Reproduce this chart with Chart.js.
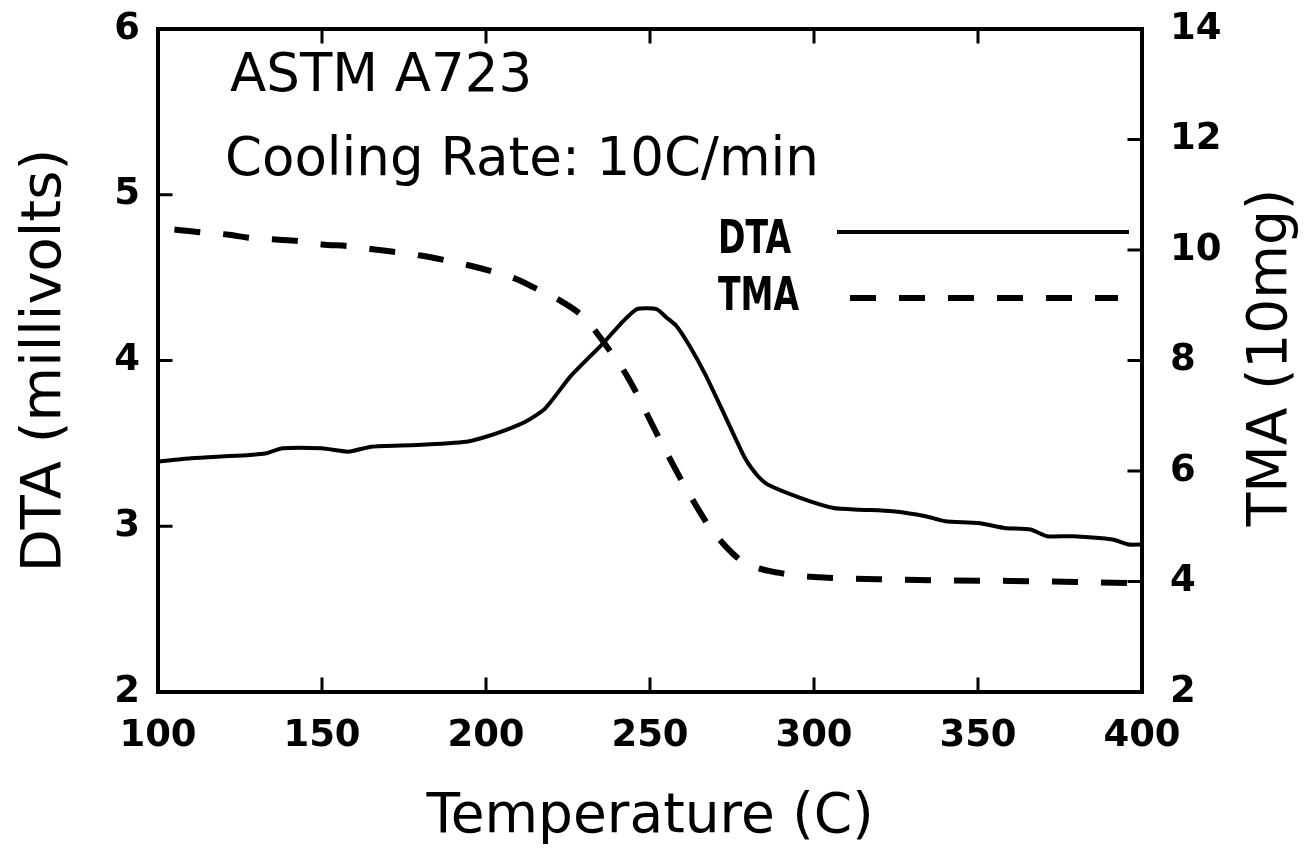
<!DOCTYPE html>
<html>
<head>
<meta charset="utf-8">
<title>ASTM A723 DTA / TMA</title>
<script src="https://cdn.jsdelivr.net/npm/chart.js@4.4.1/dist/chart.umd.min.js"></script>
<style>
  html, body { margin: 0; padding: 0; background: #fff; }
  #wrap { width: 1312px; height: 860px; }
</style>
</head>
<body>
<div id="wrap"><canvas id="dtaChart" width="1312" height="860"></canvas></div>
<script>
// DTA curve (millivolts), vs temperature (C)
const dtaTemps = [100, 110, 118, 128, 133, 138, 150, 158, 165, 179, 194, 200, 206, 212, 218, 226, 236, 241, 246, 252,
                  255, 258, 262, 267, 273, 279, 283, 286, 296, 306, 314, 324, 334, 340, 350, 358, 366, 371, 379, 391, 396, 400];
const dtaValues = [3.39, 3.41, 3.42, 3.43, 3.44, 3.47, 3.47, 3.45, 3.48, 3.49, 3.51, 3.54, 3.58, 3.63, 3.71, 3.91, 4.11, 4.22, 4.31, 4.31,
                   4.26, 4.21, 4.09, 3.91, 3.66, 3.41, 3.30, 3.25, 3.17, 3.11, 3.10, 3.09, 3.06, 3.03, 3.02, 2.99, 2.98, 2.94, 2.94, 2.92, 2.89, 2.89];

// TMA curve (10mg) on the right axis
const tmaTemps = [105, 113, 121, 128, 136, 143, 150, 158, 166, 173, 180, 188, 195, 202, 209, 216, 223, 230, 236, 243,
                  253, 260, 268, 273, 278, 283, 289, 296, 304, 320, 340, 360, 380, 400];
const tmaValues = [10.37, 10.32, 10.28, 10.22, 10.19, 10.16, 10.10, 10.07, 10.01, 9.96, 9.90, 9.81, 9.72, 9.61, 9.48, 9.28, 9.07, 8.77, 8.32, 7.72,
                   6.57, 5.79, 5.00, 4.64, 4.37, 4.24, 4.16, 4.10, 4.07, 4.04, 4.02, 4.01, 3.99, 3.97];

// axis ranges / ticks
const xTicks = [100, 150, 200, 250, 300, 350, 400];
const dtaTicks = [2, 3, 4, 5, 6];
const tmaTicks = [2, 4, 6, 8, 10, 12, 14];

const noteLines = ['ASTM A723', 'Cooling Rate: 10C/min'];
const legendNames = ['DTA', 'TMA'];

const FONT = 'DejaVu Sans';
const dashPattern = [26, 23];

// frame box + inward tick marks, like the old plotter output
const framePlugin = {
    id: 'frame',
    afterDraw(chart) {
        const { ctx, chartArea: a, scales } = chart;
        const len = 13;
        ctx.save();
        ctx.strokeStyle = '#000';
        ctx.lineWidth = 4;
        ctx.lineCap = 'square';
        ctx.strokeRect(a.left, a.top, a.right - a.left, a.bottom - a.top);

        ctx.lineWidth = 3;
        ctx.beginPath();
        xTicks.slice(1, -1).forEach(t => {
            const px = scales.x.getPixelForValue(t);
            ctx.moveTo(px, a.bottom); ctx.lineTo(px, a.bottom - len);
            ctx.moveTo(px, a.top); ctx.lineTo(px, a.top + len);
        });
        dtaTicks.slice(1, -1).forEach(t => {
            const py = scales.y.getPixelForValue(t);
            ctx.moveTo(a.left, py); ctx.lineTo(a.left + len, py);
        });
        tmaTicks.slice(1, -1).forEach(t => {
            const py = scales.y2.getPixelForValue(t);
            ctx.moveTo(a.right, py); ctx.lineTo(a.right - len, py);
        });
        ctx.stroke();

        // right axis title reads bottom-to-top, so draw it by hand
        const y2 = scales.y2;
        ctx.fillStyle = '#000';
        ctx.font = '55px "' + FONT + '"';
        ctx.textAlign = 'center';
        ctx.textBaseline = 'middle';
        ctx.translate(y2.right - 40, (a.top + a.bottom) / 2 - 3);
        ctx.rotate(-Math.PI / 2);
        ctx.fillText('TMA (10mg)', 0, 0);
        ctx.restore();
    }
};

// narrow, tall legend lettering
function narrowText(ctx, text, x, y) {
    ctx.save();
    ctx.translate(x, y);
    ctx.scale(0.72, 1);
    ctx.fillText(text, 0, 0);
    ctx.restore();
}

// annotation text and the hand-made legend inside the plot
const notesPlugin = {
    id: 'notes',
    afterDatasetsDraw(chart) {
        const { ctx, chartArea: a } = chart;
        ctx.save();
        ctx.fillStyle = '#000';
        ctx.textBaseline = 'alphabetic';
        ctx.textAlign = 'left';
        ctx.font = '53px "' + FONT + '"';
        ctx.fillText(noteLines[0], a.left + 72, a.top + 62);
        ctx.fillText(noteLines[1], a.left + 67, a.top + 146);

        ctx.font = 'bold 46px "' + FONT + '"';
        narrowText(ctx, legendNames[0], a.left + 560, a.top + 224);
        narrowText(ctx, legendNames[1], a.left + 560, a.top + 281);

        ctx.strokeStyle = '#000';
        ctx.lineWidth = 4;
        ctx.beginPath();
        ctx.moveTo(a.left + 679, a.top + 203);
        ctx.lineTo(a.left + 971, a.top + 203);
        ctx.stroke();

        ctx.lineWidth = 6;
        ctx.setLineDash(dashPattern);
        ctx.beginPath();
        ctx.moveTo(a.left + 692, a.top + 269);
        ctx.lineTo(a.left + 960, a.top + 269);
        ctx.stroke();
        ctx.restore();
    }
};

const tickFont = { family: FONT, size: 37, weight: 'bold' };

// pin the plot box: fixed axis sizes, no extra label padding
function fitY(width) {
    return s => { s.width = width; s.paddingTop = 0; s.paddingBottom = 0; };
}

const ctx = document.getElementById('dtaChart').getContext('2d');
const chart = new Chart(ctx, {
    type: 'line',
    data: {
        datasets: [
            {
                label: legendNames[0],
                data: dtaTemps.map((t, i) => ({ x: t, y: dtaValues[i] })),
                yAxisID: 'y',
                borderColor: '#000',
                borderWidth: 4,
                pointRadius: 0,
                tension: 0.2,
                fill: false
            },
            {
                label: legendNames[1],
                data: tmaTemps.map((t, i) => ({ x: t, y: tmaValues[i] })),
                yAxisID: 'y2',
                borderColor: '#000',
                borderWidth: 6,
                borderDash: dashPattern,
                pointRadius: 0,
                cubicInterpolationMode: 'monotone',
                fill: false
            }
        ]
    },
    options: {
        responsive: false,
        animation: false,
        devicePixelRatio: 1,
        layout: { padding: { top: 29, left: 0, right: 0, bottom: 0 } },
        plugins: {
            legend: { display: false },
            tooltip: { enabled: false }
        },
        scales: {
            x: {
                type: 'linear',
                min: 100, max: 400,
                afterBuildTicks: s => { s.ticks = xTicks.map(v => ({ value: v })); },
                afterFit: s => { s.height = 168; s.paddingLeft = 0; s.paddingRight = 0; },
                grid: { display: false, drawTicks: false },
                border: { display: false },
                ticks: { color: '#000', padding: 22, maxRotation: 0, font: tickFont },
                title: {
                    display: true, text: 'Temperature (C)', color: '#000',
                    font: { family: FONT, size: 55 }, padding: { top: 0, bottom: 9 }
                }
            },
            y: {
                position: 'left',
                min: 2, max: 6,
                afterBuildTicks: s => { s.ticks = dtaTicks.map(v => ({ value: v })); },
                afterFit: fitY(158),
                grid: { display: false, drawTicks: false },
                border: { display: false },
                ticks: { color: '#000', padding: 18, font: tickFont },
                title: {
                    display: true, text: 'DTA (millivolts)', color: '#000',
                    font: { family: FONT, size: 56 }, padding: { top: 12, bottom: 0 }
                }
            },
            y2: {
                position: 'right',
                min: 2, max: 14,
                afterBuildTicks: s => { s.ticks = tmaTicks.map(v => ({ value: v })); },
                afterFit: fitY(170),
                grid: { display: false, drawTicks: false },
                border: { display: false },
                ticks: { color: '#000', padding: 28, font: tickFont }
            }
        }
    },
    plugins: [framePlugin, notesPlugin]
});
</script>
</body>
</html>
